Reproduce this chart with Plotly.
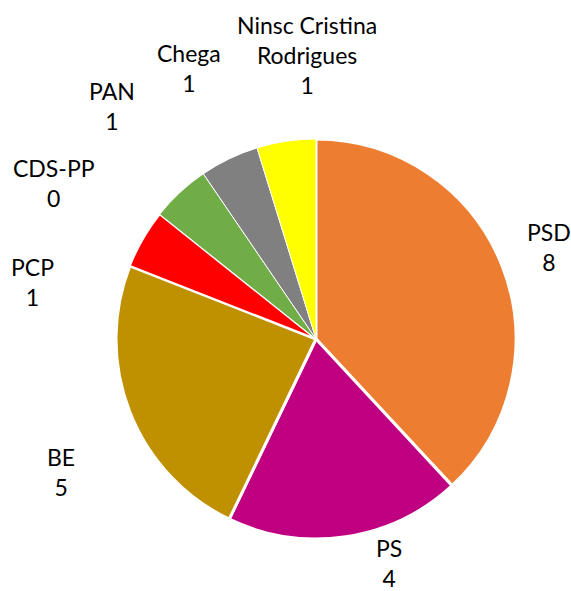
import plotly.graph_objects as go

W, H = 571, 591

parties = ["PSD", "PS", "BE", "PCP", "CDS-PP", "PAN", "Chega", "Ninsc Cristina<br>Rodrigues"]
seats = [8, 4, 5, 1, 0, 1, 1, 1]
colors = ["#ED7D31", "#BF0080", "#BF9000", "#FF0000", "#4472C4", "#70AD47", "#808080", "#FFFF00"]
border_widths = [3, 3, 3, 2, 0, 1, 1, 1]

# label block centres in pixels (x, y from top)
label_px = [(549, 247), (389, 563), (61, 472), (32, 282), (54, 183), (112, 106), (189, 68), (307, 55)]

cx, cy, r = 316, 339, 200

fig = go.Figure(go.Pie(
    labels=parties,
    values=seats,
    sort=False,
    direction="clockwise",
    rotation=0,
    textinfo="none",
    hoverinfo="label+value",
    marker=dict(colors=colors, line=dict(color="white", width=border_widths)),
    domain=dict(x=[(cx - r) / W, (cx + r) / W], y=[(H - cy - r) / H, (H - cy + r) / H]),
    showlegend=False,
))

for name, val, (px, py) in zip(parties, seats, label_px):
    fig.add_annotation(
        x=px / W, y=1 - py / H, xref="paper", yref="paper",
        text=f"{name}<br>{val}", showarrow=False,
        xanchor="center", yanchor="middle", align="center",
        font=dict(family="Lato, Open Sans, sans-serif", size=23, color="#000000"),
    )

fig.update_layout(
    width=W, height=H,
    margin=dict(l=0, r=0, t=0, b=0),
    paper_bgcolor="white", plot_bgcolor="white",
)

fig.write_html(
    "out.html",
    config={"displayModeBar": False},
    post_script="document.body.style.margin='0';document.body.style.overflow='hidden';",
)
